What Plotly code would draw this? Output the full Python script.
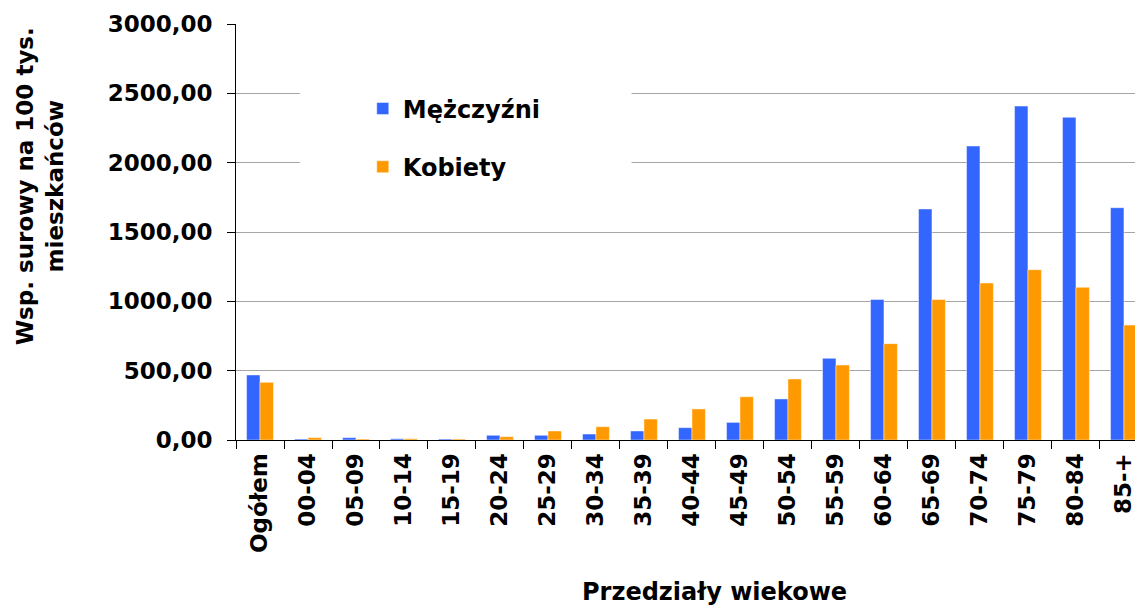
import plotly.graph_objects as go

categories = ["Ogółem", "00-04", "05-09", "10-14", "15-19", "20-24", "25-29", "30-34",
              "35-39", "40-44", "45-49", "50-54", "55-59", "60-64", "65-69", "70-74",
              "75-79", "80-84", "85-+"]
men = [469, 7, 17, 9, 7, 34, 34, 43, 65, 89, 127, 296, 589, 1013, 1666, 2120, 2408, 2327, 1675]
women = [416, 17, 7, 9, 7, 24, 65, 96, 151, 224, 312, 440, 541, 695, 1013, 1132, 1228, 1101, 829]

FONT = "DejaVu Sans"

fig = go.Figure()
fig.add_bar(x=categories, y=men, name="Mężczyźni", legendgroup="m",
            marker=dict(color="#3366FF", line=dict(color="rgba(255,255,255,0.45)", width=1)))
fig.add_bar(x=categories, y=women, name="Kobiety", legendgroup="k",
            marker=dict(color="#FF9900", line=dict(color="rgba(255,255,255,0.45)", width=1)))

fig.update_layout(
    width=1135, height=610,
    margin=dict(l=236, r=0, t=24, b=170),
    paper_bgcolor="white", plot_bgcolor="white",
    separators=",.",
    barmode="group", bargap=0.44, bargroupgap=0,
    font=dict(family=FONT, color="black"),
    legend=dict(x=0.141, y=0.85, xanchor="left", yanchor="top",
                bgcolor="rgba(0,0,0,0)", traceorder="grouped", tracegroupgap=24,
                font=dict(family=FONT, size=24, weight="bold", color="black")),
    shapes=[dict(type="rect", xref="paper", yref="paper", x0=0.071, x1=0.44,
                 y0=0.577, y1=0.889, fillcolor="white", line=dict(width=0), layer="above")],
    annotations=[
        dict(text="Przedziały wiekowe", xref="paper", yref="paper",
             x=0.532, y=-0.366, xanchor="center", yanchor="middle", showarrow=False,
             font=dict(family=FONT, size=24, weight="bold", color="black")),
        dict(text="Wsp. surowy na 100 tys.<br>mieszkańców", xref="paper", yref="paper",
             x=-0.218, y=0.61, xanchor="center", yanchor="middle", showarrow=False,
             textangle=-90,
             font=dict(family=FONT, size=23, weight="bold", color="black")),
    ],
)

fig.update_xaxes(type="category", range=[-0.5, 18.23],
                 showline=True, linecolor="black", linewidth=1,
                 ticks="outside", tickson="boundaries", ticklen=8, tickcolor="black",
                 tickangle=-90, ticklabelstandoff=3,
                 tickfont=dict(family=FONT, size=23, weight="bold", color="black"))
fig.update_yaxes(range=[0, 3000], dtick=500, tickformat=".2f",
                 showgrid=True, gridcolor="#A6A6A6", gridwidth=1,
                 showline=True, linecolor="black", linewidth=1,
                 ticks="outside", ticklen=8, tickcolor="black",
                 zeroline=False, ticklabelstandoff=10,
                 tickfont=dict(family=FONT, size=23, weight="bold", color="black"))

fig.write_html("out.html", config={"displayModeBar": False},
               post_script="document.body.style.margin='0';document.body.style.overflow='hidden';")
